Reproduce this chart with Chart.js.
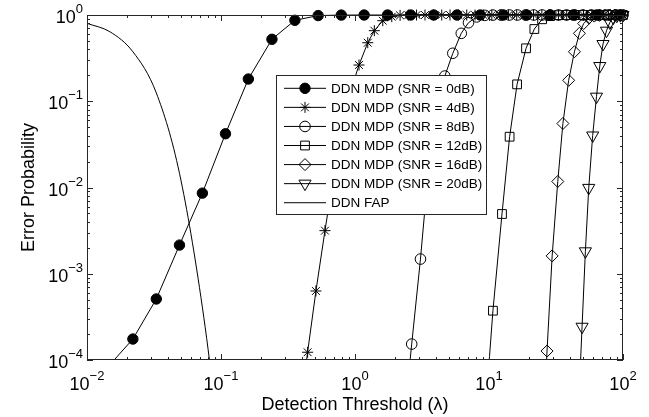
<!DOCTYPE html>
<html>
<head>
<meta charset="utf-8">
<script src="https://cdn.jsdelivr.net/npm/chart.js@4/dist/chart.umd.min.js"></script>
<style>
  html, body { margin: 0; padding: 0; background: #fff; }
  #wrap { width: 649px; height: 417px; }
</style>
</head>
<body>
<div id="wrap"><canvas id="chart" width="649" height="417"></canvas></div>
<script>
/* DDN error probability vs detection threshold (log-log) */

// --- data ---
const xSnr0  = [0.0148, 0.022, 0.0329, 0.049, 0.0726, 0.108, 0.160, 0.240, 0.356, 0.531, 0.79, 1.17, 1.75, 2.6, 3.87, 5.77, 8.6, 12.8, 19.1, 28.5, 42.5, 63.4, 94.5];
const ySnr0  = [8.8e-5, 1.75e-4, 5.1e-4, 2.15e-3, 8.6e-3, 0.042, 0.181, 0.523, 0.868, 0.985, 0.998, 1, 1, 1, 1, 1, 1, 1, 1, 1, 1, 1, 1];

const xSnr4  = [0.384, 0.443, 0.511, 0.597, 0.688, 0.796, 0.918, 1.071, 1.245, 1.394, 1.611, 1.881, 2.17, 2.50, 2.88, 3.33, 3.85, 4.44, 5.12, 5.92, 6.82, 7.87, 9.08, 10.5, 12.1, 14.0, 16.1, 18.6, 21.5, 24.8, 28.6, 33.0, 38.0, 44.0, 50.7, 58.5, 67.5, 77.8, 89.9, 100];
const ySnr4  = [2.4e-5, 1.23e-4, 6.31e-4, 3.16e-3, 0.0129, 0.0464, 0.125, 0.263, 0.477, 0.658, 0.859, 0.956, 0.99, 0.997, 0.999, 1, 1, 1, 1, 1, 1, 1, 1, 1, 1, 1, 1, 1, 1, 1, 1, 1, 1, 1, 1, 1, 1, 1, 1, 1];

const xSnr8  = [2.29, 2.65, 3.08, 3.54, 4.07, 4.68, 5.37, 6.21, 7.03, 8.09, 9.31, 10.7, 12.3, 14.2, 16.3, 18.8, 21.6, 24.9, 28.6, 33.0, 37.9, 43.6, 50.2, 57.8, 66.5, 76.6, 88.1, 100];
const ySnr8  = [1.6e-5, 1.53e-4, 1.48e-3, 0.0168, 0.079, 0.196, 0.36, 0.613, 0.814, 0.95, 0.99, 0.998, 1, 1, 1, 1, 1, 1, 1, 1, 1, 1, 1, 1, 1, 1, 1, 1];

const xSnr12 = [9.29, 10.7, 12.5, 14.25, 16.2, 18.9, 21.8, 24.9, 28.6, 33.0, 37.9, 43.6, 50.2, 57.8, 66.5, 76.6, 88.1, 100];
const ySnr12 = [2e-5, 3.73e-4, 4.93e-3, 0.0388, 0.157, 0.411, 0.688, 0.892, 0.97, 0.995, 1, 1, 1, 1, 1, 1, 1, 1];

const xSnr16 = [24.8, 27.1, 29.6, 32.6, 35.6, 39.3, 43.4, 47.3, 50.9, 55.7, 61.0, 66.7, 73.0, 79.8, 87.3, 95.5];
const ySnr16 = [6.7e-6, 1.27e-4, 1.61e-3, 0.01174, 0.0552, 0.175, 0.375, 0.613, 0.797, 0.92, 0.97, 0.99, 1, 1, 1, 1];

const xSnr20 = [46.6, 49.5, 52.4, 55.5, 59.4, 63.4, 67.1, 70.9, 75.3, 79.8, 84.7, 89.9, 95.5, 100];
const ySnr20 = [2.85e-5, 2.43e-4, 1.82e-3, 9.9e-3, 0.0401, 0.113, 0.256, 0.461, 0.658, 0.82, 0.93, 0.98, 0.995, 1];

const xFap   = [0.01, 0.0148, 0.022, 0.0329, 0.049, 0.0726, 0.108];
const yFap   = [0.80, 0.64, 0.375, 0.125, 0.0146, 4.1e-4, 3e-6];

const seriesLabels = ['DDN MDP (SNR = 0dB)', 'DDN MDP (SNR = 4dB)', 'DDN MDP (SNR = 8dB)',
  'DDN MDP (SNR = 12dB)', 'DDN MDP (SNR = 16dB)', 'DDN MDP (SNR = 20dB)', 'DDN FAP'];
const xDecades = [-2, -1, 0, 1, 2];
const yDecades = [-4, -3, -2, -1, 0];
const xTitle = 'Detection Threshold (\u03bb)';
const yTitle = 'Error Probability';

const FONT = '"Liberation Sans", Arial, Helvetica, sans-serif';
const INK = '#000';
const AXIS = '#262626';
const NONE = 'rgba(0,0,0,0)';

const toPts = (xs, ys) => xs.map((x, i) => ({ x, y: ys[i] }));

// marker look per series (MATLAB: '-o' filled, '-*', '-o', '-s', '-d', '-v', '-')
const markers = [
  { pointStyle: 'circle',   radius: 5.2, fill: INK,  rotation: 0 },
  { pointStyle: 'star',     radius: 5.5, fill: NONE, rotation: 0 },
  { pointStyle: 'circle',   radius: 5.3, fill: NONE, rotation: 0 },
  { pointStyle: 'rect',     radius: 6.2, fill: NONE, rotation: 0 },
  { pointStyle: 'rectRot',  radius: 6.0, fill: NONE, rotation: 0 },
  { pointStyle: 'triangle', radius: 7.0, fill: NONE, rotation: 180 },
  { pointStyle: false,      radius: 0,   fill: NONE, rotation: 0 },
];

const seriesData = [
  toPts(xSnr0, ySnr0), toPts(xSnr4, ySnr4), toPts(xSnr8, ySnr8),
  toPts(xSnr12, ySnr12), toPts(xSnr16, ySnr16), toPts(xSnr20, ySnr20),
  toPts(xFap, yFap),
];

const datasets = seriesData.map((data, i) => ({
  label: seriesLabels[i],
  data,
  borderColor: INK,
  borderWidth: 1,
  tension: 0,
  // FAP is a smooth analytic curve in the original; let the library round it
  cubicInterpolationMode: i === 6 ? 'monotone' : 'default',
  fill: false,
  pointStyle: markers[i].pointStyle,
  pointRadius: markers[i].radius,
  pointRotation: markers[i].rotation,
  pointBackgroundColor: markers[i].fill,
  pointBorderColor: INK,
  pointBorderWidth: 1,
  clip: { left: 0, top: 10, right: 10, bottom: 0 },
}));

// 10^n label with a raised exponent
function drawPower(ctx, exp, x, baseline, align) {
  const base = '10';
  const sup = exp < 0 ? '\u2212' + (-exp) : String(exp);
  ctx.font = `18px ${FONT}`;
  const wb = ctx.measureText(base).width;
  ctx.font = `13px ${FONT}`;
  const ws = ctx.measureText(sup).width;
  const left = align === 'center' ? x - (wb + ws) / 2 : x - (wb + ws);
  ctx.textAlign = 'left';
  ctx.textBaseline = 'alphabetic';
  ctx.font = `18px ${FONT}`;
  ctx.fillText(base, left, baseline);
  ctx.font = `13px ${FONT}`;
  ctx.fillText(sup, left + wb, baseline - 10);
}

// MATLAB-style box: inward ticks on all sides, minor ticks, labels, titles
const matlabAxes = {
  id: 'matlabAxes',
  afterDatasetsDraw(chart) {
    const { ctx, chartArea: a, scales: { x, y } } = chart;
    ctx.save();
    ctx.strokeStyle = AXIS;
    ctx.lineWidth = 1;
    ctx.strokeRect(a.left + 0.5, a.top + 0.5, a.right - a.left - 1, a.bottom - a.top - 1);

    ctx.beginPath();
    xDecades.forEach(n => {
      for (let m = 1; m <= 9; m++) {
        const v = m * Math.pow(10, n);
        if (v > 100.0001) break;
        const px = Math.round(x.getPixelForValue(v)) + 0.5;
        const len = m === 1 ? 6 : 3;
        ctx.moveTo(px, a.bottom); ctx.lineTo(px, a.bottom - len);
        ctx.moveTo(px, a.top);    ctx.lineTo(px, a.top + len);
      }
    });
    yDecades.forEach(n => {
      for (let m = 1; m <= 9; m++) {
        const v = m * Math.pow(10, n);
        if (v > 1.0001) break;
        const py = Math.round(y.getPixelForValue(v)) + 0.5;
        const len = m === 1 ? 6 : 3;
        ctx.moveTo(a.left, py);  ctx.lineTo(a.left + len, py);
        ctx.moveTo(a.right, py); ctx.lineTo(a.right - len, py);
      }
    });
    ctx.stroke();

    ctx.fillStyle = INK;
    xDecades.forEach(n => drawPower(ctx, n, x.getPixelForValue(Math.pow(10, n)), 390, 'center'));
    yDecades.forEach(n => drawPower(ctx, n, a.left - 4, y.getPixelForValue(Math.pow(10, n)) + 8, 'right'));

    ctx.font = `18px ${FONT}`;
    ctx.textAlign = 'center';
    ctx.textBaseline = 'alphabetic';
    ctx.fillText(xTitle, (a.left + a.right) / 2, 410);
    ctx.translate(33.5, (a.top + a.bottom) / 2);
    ctx.rotate(-Math.PI / 2);
    ctx.fillText(yTitle, 0, 0);
    ctx.restore();
  }
};

// boxed legend inside the axes, line sample with marker in the middle
const boxLegend = {
  id: 'boxLegend',
  afterDatasetsDraw(chart) {
    const { ctx } = chart;
    const box = { left: 276.5, top: 75.5, right: 486.5, bottom: 214.5 };
    ctx.save();
    ctx.fillStyle = '#fff';
    ctx.fillRect(box.left, box.top, box.right - box.left, box.bottom - box.top);
    ctx.strokeStyle = AXIS;
    ctx.lineWidth = 1;
    ctx.strokeRect(box.left, box.top, box.right - box.left, box.bottom - box.top);

    seriesLabels.forEach((label, i) => {
      const cy = 88.3 + i * 19.07;
      ctx.strokeStyle = INK;
      ctx.lineWidth = 1;
      ctx.beginPath();
      ctx.moveTo(284, cy); ctx.lineTo(326, cy);
      ctx.stroke();
      const mk = markers[i];
      if (mk.pointStyle && Chart.helpers && Chart.helpers.drawPoint) {
        ctx.fillStyle = mk.fill;
        Chart.helpers.drawPoint(ctx, { pointStyle: mk.pointStyle, radius: mk.radius, rotation: mk.rotation, borderWidth: 1 }, 305, cy);
      }
      ctx.fillStyle = INK;
      ctx.font = `13.5px ${FONT}`;
      ctx.textAlign = 'left';
      ctx.textBaseline = 'middle';
      ctx.fillText(label, 331, cy + 0.5);
    });
    ctx.restore();
  }
};

new Chart(document.getElementById('chart').getContext('2d'), {
  type: 'line',
  data: { datasets },
  options: {
    responsive: false,
    animation: false,
    events: [],
    layout: { padding: { left: 87, top: 15, right: 26, bottom: 57 } },
    plugins: { legend: { display: false }, tooltip: { enabled: false } },
    scales: {
      x: { type: 'logarithmic', min: 0.01, max: 100, display: false },
      y: { type: 'logarithmic', min: 1e-4, max: 1, display: false },
    },
  },
  plugins: [matlabAxes, boxLegend],
});
</script>
</body>
</html>
